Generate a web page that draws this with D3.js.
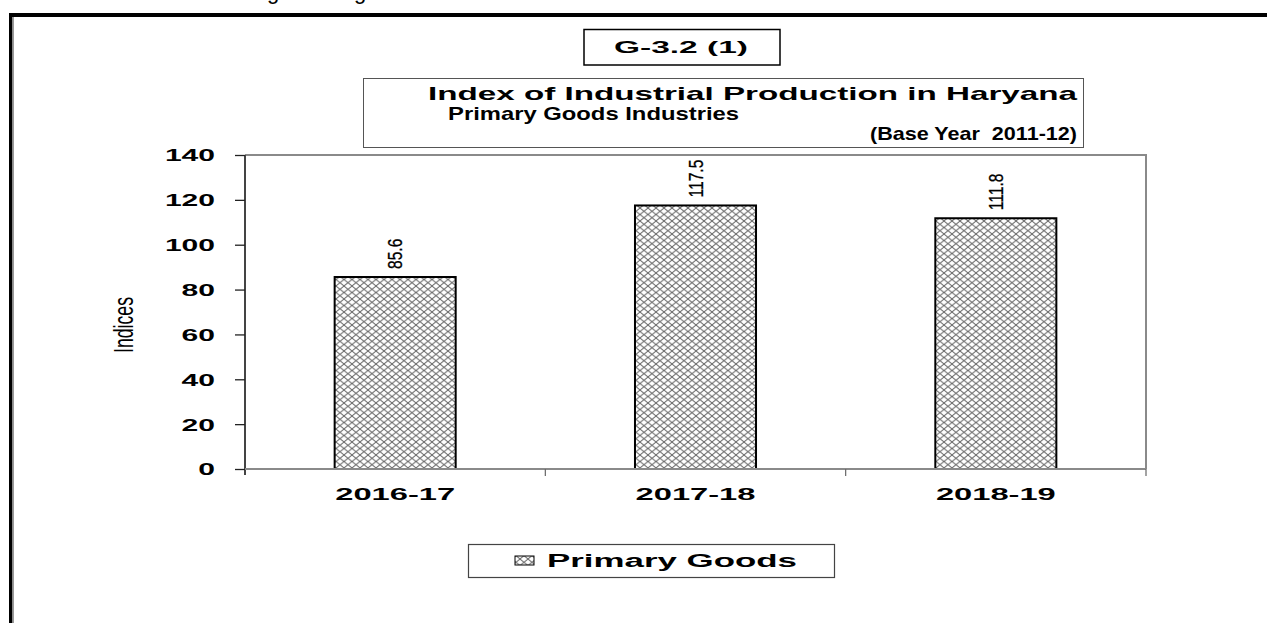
<!DOCTYPE html>
<html>
<head>
<meta charset="utf-8">
<script src="https://cdn.jsdelivr.net/npm/d3@7"></script>
<style>
  html, body { margin: 0; padding: 0; background: #fff; }
  svg { display: block; }
  text { font-family: "Liberation Sans", Arial, sans-serif; fill: #000; white-space: pre; }
</style>
</head>
<body>
<svg id="chart" width="1267" height="623"></svg>
<script>
const categories = ["2016-17", "2017-18", "2018-19"];
const values = [85.6, 117.5, 111.8];
const valueLabels = ["85.6", "117.5", "111.8"];
const yTicks = [0, 20, 40, 60, 80, 100, 120, 140];
const seriesName = "Primary Goods";
const chartId = "G-3.2 (1)";
const titleLines = ["Index of Industrial Production in Haryana", "Primary Goods Industries", "(Base Year  2011-12)"];
const yAxisTitle = "Indices";

const svg = d3.select("#chart");

function stretch(sel, factor) {
  sel.each(function () {
    const w = this.getComputedTextLength();
    d3.select(this).attr("textLength", w * factor).attr("lengthAdjust", "spacingAndGlyphs");
  });
}
function fitTo(sel, width) {
  sel.attr("textLength", width).attr("lengthAdjust", "spacingAndGlyphs");
}

// hatch pattern
const defs = svg.append("defs");
const pat = defs.append("pattern").attr("id", "hatch").attr("patternUnits", "userSpaceOnUse")
  .attr("width", 8).attr("height", 6.5);
pat.append("rect").attr("width", 8).attr("height", 6.5).attr("fill", "#fff");
pat.append("path").attr("d", "M0,0 L8,6.5 M8,0 L0,6.5").attr("stroke", "#6a6a6a").attr("stroke-width", 1);

// clipped text fragment at very top (cut off in the reference as well)
svg.append("text").attr("x", 267).attr("y", -1).attr("font-family", "Liberation Serif").attr("font-size", 22).text("g");
svg.append("text").attr("x", 354).attr("y", -1).attr("font-family", "Liberation Serif").attr("font-size", 22).text("g");

// page frame
svg.append("rect").attr("x", 9).attr("y", 13).attr("width", 1258).attr("height", 4).attr("fill", "#000");
svg.append("rect").attr("x", 9).attr("y", 13).attr("width", 3.5).attr("height", 610).attr("fill", "#000");
svg.append("rect").attr("x", 12.5).attr("y", 17).attr("width", 1.5).attr("height", 606).attr("fill", "#9a9a9a");

// chart id box
svg.append("rect").attr("x", 584).attr("y", 29.5).attr("width", 196).attr("height", 35.5)
  .attr("fill", "#fff").attr("stroke", "#000").attr("stroke-width", 1.5);
svg.append("text").attr("x", 681).attr("y", 53).attr("text-anchor", "middle")
  .attr("font-size", 17).attr("font-weight", "bold").text(chartId).call(fitTo, 134);

// title box
svg.append("rect").attr("x", 363.5).attr("y", 78.5).attr("width", 720).attr("height", 69)
  .attr("fill", "#fff").attr("stroke", "#555").attr("stroke-width", 1);
const tl = [
  { x: 1077, y: 100, w: 649 },
  { x: 739, y: 120, w: 291 },
  { x: 1077, y: 140, w: 207 }
];
titleLines.forEach((t, i) => {
  svg.append("text").attr("x", tl[i].x).attr("y", tl[i].y).attr("text-anchor", "end")
    .attr("font-size", 18.5).attr("font-weight", "bold").text(t).call(fitTo, tl[i].w);
});

// plot area
const plot = { left: 245, right: 1146, top: 155, bottom: 469 };
const x = d3.scaleBand().domain(categories).range([plot.left, plot.right])
  .paddingInner(0.597).paddingOuter(0.2985);
const y = d3.scaleLinear().domain([0, 140]).range([plot.bottom, plot.top]);

svg.append("path")
  .attr("d", `M${plot.left},${plot.top} H${plot.right} V${plot.bottom}`)
  .attr("fill", "none").attr("stroke", "#8a8a8a").attr("stroke-width", 2);

// bars
svg.append("g").selectAll("rect").data(values).join("rect")
  .attr("x", (d, i) => x(categories[i]))
  .attr("y", d => y(d))
  .attr("width", x.bandwidth())
  .attr("height", d => y(0) - y(d))
  .attr("fill", "url(#hatch)")
  .attr("stroke", "#000").attr("stroke-width", 2);

// value labels (rotated)
svg.append("g").selectAll("text").data(values).join("text")
  .attr("transform", (d, i) => `translate(${x(categories[i]) + x.bandwidth() / 2 + 7},${y(d) - 8}) rotate(-90)`)
  .attr("text-anchor", "start")
  .attr("font-size", 20.5)
  .attr("stroke", "#000").attr("stroke-width", 0.3)
  .text((d, i) => valueLabels[i])
  .call(stretch, 0.76);

// y axis
const yAxis = svg.append("g").attr("transform", `translate(${plot.left},0)`)
  .call(d3.axisLeft(y).tickValues(yTicks).tickSize(10).tickPadding(20).tickFormat(d3.format("d")));
yAxis.select(".domain").attr("stroke", "#444").attr("stroke-width", 2).attr("d", `M0,${plot.top}V${plot.bottom + 6}`);
yAxis.selectAll(".tick line").attr("stroke", "#222").attr("stroke-width", 1.3);
yAxis.selectAll(".tick text").attr("font-size", 16.5).attr("font-weight", "bold")
  .attr("font-family", "Liberation Sans, Arial, sans-serif").attr("fill", "#000").attr("dy", "0.36em")
  .call(stretch, 1.82);

// x axis
const xAxis = svg.append("g").attr("transform", `translate(0,${plot.bottom})`)
  .call(d3.axisBottom(x).tickSize(0).tickPadding(19));
xAxis.select(".domain").attr("stroke", "#8a8a8a").attr("stroke-width", 2).attr("d", `M${plot.left},0H${plot.right}`);
xAxis.selectAll(".tick text").attr("font-size", 16.5).attr("font-weight", "bold")
  .attr("font-family", "Liberation Sans, Arial, sans-serif").attr("fill", "#000")
  .call(stretch, 1.98);
const bounds = categories.map((c, i) => plot.left + i * x.step()).concat([plot.right]);
svg.append("g").selectAll("line").data(bounds.slice(1)).join("line")
  .attr("x1", d => d).attr("x2", d => d).attr("y1", plot.bottom).attr("y2", plot.bottom + 7)
  .attr("stroke", "#666").attr("stroke-width", 1.2);

// y axis title
svg.append("text").attr("transform", `translate(133,325) rotate(-90)`)
  .attr("text-anchor", "middle").attr("font-size", 27).text(yAxisTitle)
  .call(fitTo, 56);

// legend
svg.append("rect").attr("x", 468.5).attr("y", 544.5).attr("width", 366).attr("height", 33)
  .attr("fill", "#fff").attr("stroke", "#444").attr("stroke-width", 1.2);
svg.append("rect").attr("x", 515).attr("y", 556).attr("width", 19).attr("height", 9)
  .attr("fill", "url(#hatch)").attr("stroke", "#000").attr("stroke-width", 1);
svg.append("text").attr("x", 547).attr("y", 567).attr("font-size", 17.5).attr("font-weight", "bold")
  .text(seriesName).call(fitTo, 250);
</script>
</body>
</html>
